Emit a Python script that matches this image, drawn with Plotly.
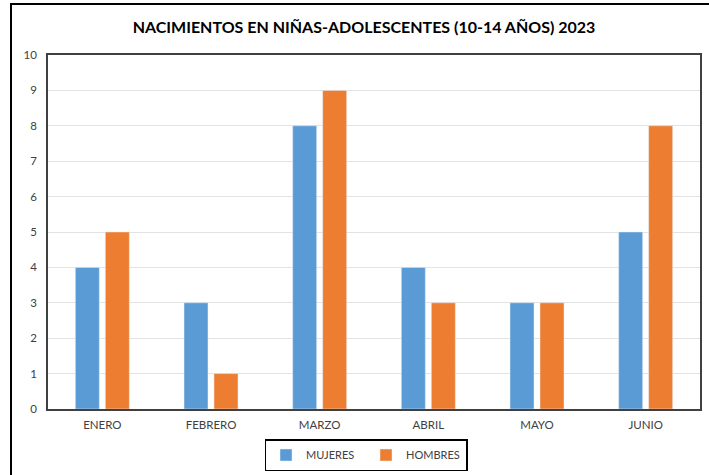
import plotly.graph_objects as go

# Births to girls aged 10-14, by month and sex of the newborn (2023)
meses = ["ENERO", "FEBRERO", "MARZO", "ABRIL", "MAYO", "JUNIO"]
mujeres = [4, 3, 8, 4, 3, 5]
hombres = [5, 1, 9, 3, 3, 8]
y_ticks = list(range(0, 11))

AZUL = "#5B9BD5"
NARANJA = "#ED7D31"
FONT = "Lato"

fig = go.Figure()
fig.add_trace(go.Bar(name="MUJERES", x=meses, y=mujeres, marker_color=AZUL))
fig.add_trace(go.Bar(name="HOMBRES", x=meses, y=hombres, marker_color=NARANJA))

W, H = 709, 475
L, R, T, B = 48, 9, 55, 66
pw, ph = W - L - R, H - T - B

def px_x(x):
    return (x - L) / pw

def px_y(y):
    return 1 - (y - T) / ph

fig.update_layout(
    width=W, height=H,
    margin=dict(l=L, r=R, t=T, b=B, autoexpand=False),
    paper_bgcolor="white", plot_bgcolor="white",
    barmode="group", bargap=0.448, bargroupgap=0.2,
    font=dict(family=FONT, size=11, color="#404040"),
    title=dict(
        text="<b>NACIMIENTOS EN NIÑAS-ADOLESCENTES (10-14 AÑOS) 2023</b>",
        x=px_x(364), xref="paper", xanchor="center",
        y=1 - 27 / H, yanchor="middle",
        font=dict(family=FONT, size=16, color="#000000"),
    ),
    xaxis=dict(
        showgrid=False, ticks="", tickfont=dict(size=11.5, color="#404040"),
        showline=True, linecolor="#404040", linewidth=1.5, mirror=True,
        ticklabelstandoff=4,
    ),
    yaxis=dict(
        range=[0, 10], tickvals=y_ticks, showgrid=True,
        gridcolor="#E3E3E3", gridwidth=1, zeroline=False,
        showline=True, linecolor="#404040", linewidth=1.5, mirror=True,
        tickfont=dict(size=11.5, color="#404040"), ticks="", ticklabelstandoff=7,
    ),
    legend=dict(
        orientation="h", x=px_x(366), xanchor="center",
        y=px_y(455), yanchor="middle",
        bordercolor="#000000", borderwidth=1.5,
        font=dict(size=11, color="#404040"),
        itemwidth=30, traceorder="normal",
        entrywidth=55, entrywidthmode="pixels",
        tracegroupgap=0,
    ),
    showlegend=True,
)

# outer frame around the whole chart
fig.add_shape(
    type="rect", xref="paper", yref="paper",
    x0=px_x(11), x1=px_x(716), y0=px_y(482), y1=px_y(4),
    line=dict(color="#000000", width=2), fillcolor="rgba(0,0,0,0)", layer="below",
)

fig.write_html("out.html")
